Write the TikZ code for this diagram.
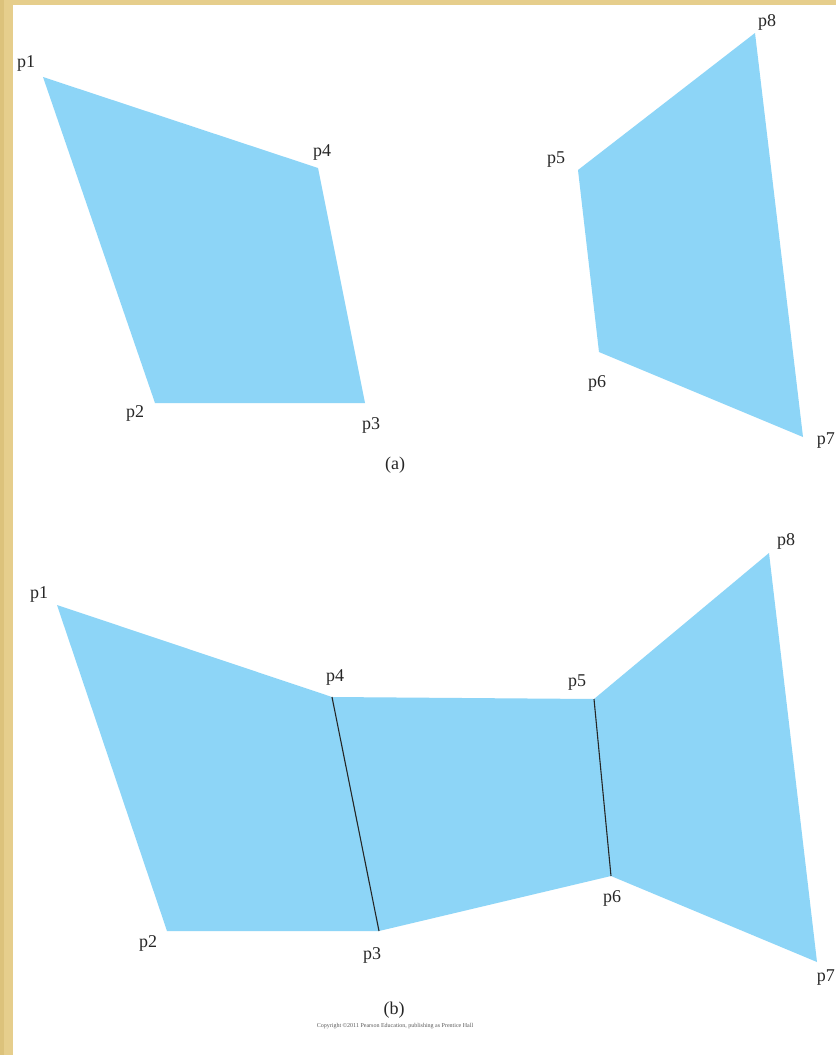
\documentclass[tikz,border=0pt]{standalone}
\usepackage{fontspec}
\setmainfont{Liberation Serif}
\definecolor{quadblue}{RGB}{141,213,247}
\definecolor{frame}{RGB}{230,206,140}
\definecolor{frameb}{RGB}{214,186,112}
\definecolor{copygray}{RGB}{90,90,90}
\tikzset{
  quad/.style={fill=quadblue},
  seam/.style={draw=black!85, line width=1.1pt},
  plabel/.style={font=\fontsize{18}{18}\selectfont, text=black!85, inner sep=0pt},
  caption/.style={font=\fontsize{18}{18}\selectfont, text=black!85, inner sep=0pt},
}
\begin{document}
\begin{tikzpicture}[x=1pt,y=-1pt]
\useasboundingbox (0,0) rectangle (836,1055);
\clip (0,0) rectangle (836,1055);
% frame
\fill[frame] (0,0) rectangle (836,1055);
\fill[frameb!60!frame] (0,0) rectangle (4,1055);
\fill[white] (13,5) rectangle (836,1055);
% (a) coordinates
\coordinate (a1) at (43,77);
\coordinate (a2) at (155,403);
\coordinate (a3) at (365,403);
\coordinate (a4) at (318,168);
\coordinate (a5) at (578,170);
\coordinate (a6) at (599,352);
\coordinate (a7) at (803,437);
\coordinate (a8) at (755,33);
\fill[quad] (a1) -- (a2) -- (a3) -- (a4) -- cycle;
\fill[quad] (a5) -- (a6) -- (a7) -- (a8) -- cycle;
\node[plabel] (la1) at (26,63) {p1};
\node[plabel] (la4) at (322,152) {p4};
\node[plabel] (la2) at (135,413) {p2};
\node[plabel] (la3) at (371,425) {p3};
\node[plabel] (la5) at (556,160) {p5};
\node[plabel] (la8) at (767,22) {p8};
\node[plabel] (la6) at (597,383) {p6};
\node[plabel, anchor=east] (la7) at (835,441) {p7};
\node[caption] (capa) at (395,465) {(a)};
% (b) coordinates
\coordinate (b1) at (57,605);
\coordinate (b2) at (167,931);
\coordinate (b3) at (379,931);
\coordinate (b4) at (332,697);
\coordinate (b5) at (594,699);
\coordinate (b6) at (611,876);
\coordinate (b7) at (817,962);
\coordinate (b8) at (769,553);
\fill[quad] (b1) -- (b2) -- (b3) -- (b6) -- (b7) -- (b8) -- (b5) -- (b4) -- cycle;
\draw[seam] (b4) -- (b3);
\draw[seam] (b5) -- (b6);
\node[plabel] (lb1) at (39,594) {p1};
\node[plabel] (lb4) at (335,677) {p4};
\node[plabel] (lb5) at (577,683) {p5};
\node[plabel] (lb8) at (786,541) {p8};
\node[plabel] (lb6) at (612,898) {p6};
\node[plabel] (lb3) at (372,955) {p3};
\node[plabel] (lb2) at (148,943) {p2};
\node[plabel, anchor=east] (lb7) at (835,978) {p7};
\node[caption] (capb) at (394,1010) {(b)};
\node[font=\fontsize{6}{6}\selectfont, text=copygray, inner sep=0pt] (copy) at (395,1026) {Copyright ©2011 Pearson Education, publishing as Prentice Hall};
\end{tikzpicture}
\end{document}
